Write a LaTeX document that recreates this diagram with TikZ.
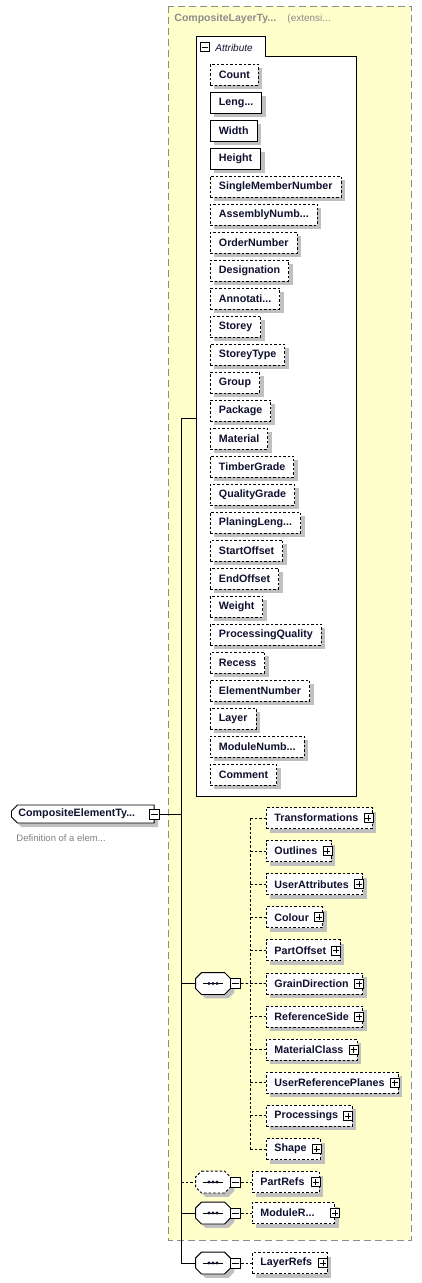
\documentclass[tikz,border=0pt]{standalone}
\usepackage{fontspec}
\setmainfont{Liberation Sans}
\usetikzlibrary{shapes.misc,shadows}
\definecolor{extfill}{HTML}{FFFFCC}
\definecolor{extline}{HTML}{8C8C8C}
\definecolor{shad}{HTML}{C0C0C0}
\definecolor{desc}{HTML}{808080}
\definecolor{ink}{HTML}{101030}
\newcommand\xdots{...}
\begin{document}
\begin{tikzpicture}[x=1pt,y=-1pt,line width=0.9pt,
  lbl/.style={font=\bfseries\fontsize{10.7}{12}\selectfont,text=ink},
  shd/.style={general shadow={fill=shad,shadow xshift=4pt,shadow yshift=-4pt}},
  dsh/.style={dash pattern=on 2.5pt off 2pt},
  attr/.style={draw,fill=white,shd,lbl,anchor=west,minimum height=21pt,inner xsep=8.5pt,inner ysep=0pt},
  opt/.style={attr,dsh},
  req/.style={attr,solid},
  elem/.style={draw,dsh,fill=white,shd,lbl,anchor=west,minimum height=21pt,inner xsep=8pt,inner ysep=0pt},
  pbox/.style={draw,solid,fill=white,minimum size=9pt,inner sep=0pt,line width=0.7pt,
    path picture={\draw[line width=0.7pt] ([xshift=1.5pt]path picture bounding box.west) -- ([xshift=-1.5pt]path picture bounding box.east);
                  \draw[line width=0.7pt] ([yshift=-1.5pt]path picture bounding box.north) -- ([yshift=1.5pt]path picture bounding box.south);}},
  mbox/.style={draw,solid,fill=white,minimum size=10pt,inner sep=0pt,line width=0.7pt,
    path picture={\draw[line width=0.7pt] ([xshift=1.5pt]path picture bounding box.west) -- ([xshift=-1.5pt]path picture bounding box.east);}},
  seqc/.style={rectangle,minimum width=34pt,minimum height=21pt,inner sep=0pt},
  rootn/.style={chamfered rectangle,chamfered rectangle corners={north west,south west},chamfered rectangle sep=3pt,
    draw,fill=white,shd,lbl,anchor=west,minimum height=18pt,inner xsep=4pt,inner ysep=0pt},
  conn/.style={draw,line width=0.9pt},
  dconn/.style={conn,dsh}
]
\useasboundingbox (0,0) rectangle (422,1283);

% extension box
\path[fill=extfill,draw=extline,line width=1pt,dash pattern=on 7pt off 4pt] (168,6) rectangle (411,1240);
\node[anchor=base west,inner sep=0pt,text=extline,font=\bfseries\fontsize{10.5}{12}\selectfont] (extt) at (174,21) {CompositeLayerTy...};
\node[anchor=base west,inner sep=0pt,text=extline,font=\fontsize{10}{12}\selectfont] (exts) at (287,21) {(extensi...};

% attribute group box
\path[draw,fill=white,line width=1pt] (196,36) -- (265,36) -- (265,56) -- (356,56) -- (356,796) -- (196,796) -- cycle;
\node[mbox,minimum size=9.5pt] (am) at (205,47) {};
\node[anchor=base west,inner sep=0pt,text=ink,font=\itshape\fontsize{10}{12}\selectfont] (at) at (215,51) {Attribute};
\coordinate (attrin) at (196,418);

\foreach \n/\s [count=\i from 0] in {Count/opt,Leng\xdots/req,Width/req,Height/req,SingleMemberNumber/opt,AssemblyNumb\xdots/opt,
  OrderNumber/opt,Designation/opt,Annotati\xdots/opt,Storey/opt,StoreyType/opt,Group/opt,Package/opt,Material/opt,
  TimberGrade/opt,QualityGrade/opt,PlaningLeng\xdots/opt,StartOffset/opt,EndOffset/opt,Weight/opt,ProcessingQuality/opt,
  Recess/opt,ElementNumber/opt,Layer/opt,ModuleNumb\xdots/opt,Comment/opt}
  \node[\s] (a\i) at (210,74.5+28*\i) {\n};

% root
\node[rootn] (root) at (11,814) {CompositeElementTy...\hspace*{12pt}};
\node[mbox] (rm) at (root.east) {};
\node[anchor=base west,inner sep=0pt,text=desc,font=\fontsize{9.5}{11}\selectfont] (rdesc) at (16,841) {Definition of a elem...};

% compositors
\node[seqc] (c1) at (213,983.5) {};
\node[seqc] (c2) at (213,1182) {};
\node[seqc] (c3) at (213,1213) {};
\node[seqc] (c4) at (213,1263) {};
\foreach \c/\st in {c1/solid,c2/dsh,c3/solid,c4/solid} {
  \path[draw,fill=white,shd,\st] ([xshift=6pt]\c.north west) -- ([xshift=-6pt]\c.north east) -- ([yshift=-6pt]\c.north east)
    -- ([yshift=6pt]\c.south east) -- ([xshift=-6pt]\c.south east) -- ([xshift=6pt]\c.south west)
    -- ([yshift=6pt]\c.south west) -- ([yshift=-6pt]\c.north west) -- cycle;
  \draw[solid,line width=0.9pt] ([xshift=-10pt]\c.center) -- ([xshift=10pt]\c.center);
  \foreach \d in {-4,0,4} \fill[ink] ([xshift=\d pt]\c.center) circle (1.7pt);
}
\node[mbox,anchor=west] (m1) at (c1.east) {};
\node[mbox,anchor=west] (m2) at (c2.east) {};
\node[mbox,anchor=west] (m3) at (c3.east) {};
\node[mbox,anchor=west] (m4) at (c4.east) {};

% sequence children
\foreach \n [count=\i] in {Transformations,Outlines,UserAttributes,Colour,PartOffset,GrainDirection,ReferenceSide,MaterialClass,UserReferencePlanes,Processings,Shape}
{
  \node[elem] (e\i) at (266,818+33.1*\i-33.1) {\n\hspace*{6pt}};
  \node[pbox,anchor=east] (p\i) at ([xshift=0.5pt]e\i.east) {};
}
\node[elem] (pr) at (252,1182) {PartRefs\hspace*{7pt}};
\node[pbox,anchor=east] (ppr) at ([xshift=0.5pt]pr.east) {};
\node[elem] (mr) at (252,1213) {ModuleR...\hspace*{12pt}};
\node[pbox] (pmr) at (mr.east) {};
\node[elem] (lr) at (252,1263) {LayerRefs\hspace*{7pt}};
\node[pbox,anchor=east] (plr) at ([xshift=0.5pt]lr.east) {};

% connectors
\coordinate (tt) at (181,418);
\coordinate (sv) at (250,818);
\path[conn] (rm.east) -- (tt |- rm.east);
\path[conn] (attrin) -- (tt) |- (c4.west);
\path[conn] (tt |- c1.west) -- (c1.west);
\path[dconn] (tt |- c2.west) -- (c2.west);
\path[conn] (tt |- c3.west) -- (c3.west);
\path[dconn] (m1.east) -- (e6.west);
\path[dconn] (sv |- e1.west) -- (sv |- e11.west);
\foreach \i in {1,...,11} \path[dconn] (sv |- e\i.west) -- (e\i.west);
\path[dconn] (m2.east) -- (pr.west);
\path[dconn] (m3.east) -- (mr.west);
\path[dconn] (m4.east) -- (lr.west);
\end{tikzpicture}
\end{document}
